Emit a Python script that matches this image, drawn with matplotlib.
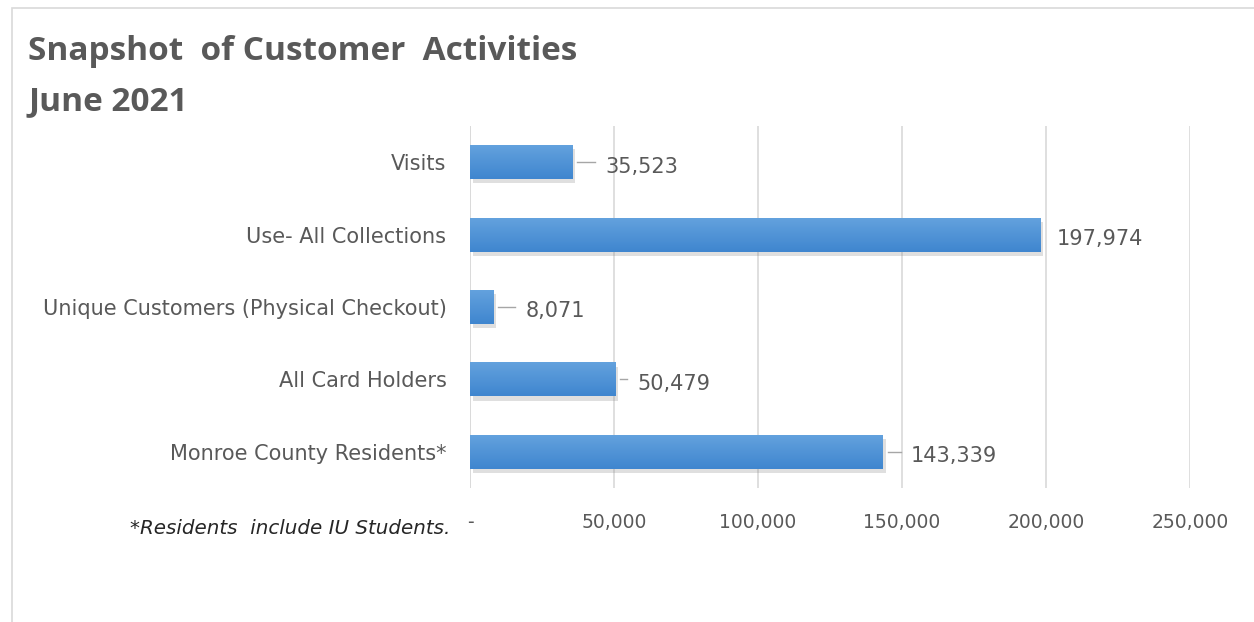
import matplotlib
matplotlib.use("Agg")
import numpy as np
import matplotlib.pyplot as plt
import matplotlib.patheffects as pe
from matplotlib.colors import LinearSegmentedColormap
from matplotlib.patches import Rectangle

categories = ["Visits", "Use- All Collections", "Unique Customers (Physical Checkout)",
              "All Card Holders", "Monroe County Residents*"]
values = [35523, 197974, 8071, 50479, 143339]
xticks = [0, 50000, 100000, 150000, 200000, 250000]
xticklabels = ["-", "50,000", "100,000", "150,000", "200,000", "250,000"]

# label gaps (px) as dragged in the source chart; leader line drawn when > 20 px
label_gap_px = [33, 17, 32, 22, 28]

TEXT = "#595959"
plt.rcParams["font.family"] = ["DejaVu Sans"]

W, H = 1254, 622
fig = plt.figure(figsize=(W / 100, H / 100), dpi=100)

# chart frame
fig.patches.append(Rectangle((12 / W, -0.05), 1.2, (H - 8) / H + 0.05,
                             transform=fig.transFigure, fill=False,
                             edgecolor="#d9d9d9", lw=1.2))

ax = fig.add_axes([470 / W, 1 - 488 / H, 720 / W, 362 / H])
y = list(range(len(categories)))
bars = ax.barh(y, values, height=0.47, color="#4a8fd6", zorder=3)
for b in bars:
    b.set_path_effects([pe.SimplePatchShadow(offset=(2, -3), shadow_rgbFace="#808080",
                                             alpha=0.25), pe.Normal()])

# top-to-bottom gradient fill on each bar
grad = LinearSegmentedColormap.from_list("bar", ["#64a2de", "#3f86cf"])
for b in bars:
    x0, y0, w, h = b.get_x(), b.get_y(), b.get_width(), b.get_height()
    im = ax.imshow(np.linspace(0, 1, 64).reshape(-1, 1), cmap=grad, aspect="auto",
                   extent=(x0, x0 + w, y0 + h, y0), origin="upper", zorder=4)
    im.set_clip_path(b)
ax.set_xlim(0, 250000)
ax.set_ylim(len(categories) - 0.5, -0.5)

ax.set_xticks(xticks)
ax.set_xticklabels(xticklabels, fontsize=13.5, color=TEXT)
ax.set_yticks(y)
ax.set_yticklabels(categories, fontsize=15, color=TEXT)
ax.tick_params(axis="y", length=0, pad=17)
ax.tick_params(axis="x", length=0, pad=18)
ax.grid(axis="x", color="#d9d9d9", lw=1.2, zorder=0)
for s in ax.spines.values():
    s.set_visible(False)
ax.axvline(0, color="#d9d9d9", lw=1.2, zorder=1)

# data labels with leader lines
units_per_px = 250000 / 720
for yi, v, gap in zip(y, values, label_gap_px):
    if gap > 20:
        ax.plot([v + 5 * units_per_px, v + (gap - 10) * units_per_px], [yi, yi],
                color="#a6a6a6", lw=1.0, zorder=2)
    ax.text(v + gap * units_per_px, yi + 0.06, f"{v:,}", fontsize=15, color=TEXT,
            va="center", ha="left")

fig.text(28 / W, 1 - 51 / H, "Snapshot  of Customer  Activities", fontsize=24,
         fontweight="bold", color=TEXT, va="center", ha="left",
         family="Open Sans")
fig.text(28 / W, 1 - 102 / H, "June 2021", fontsize=24, fontweight="bold",
         color=TEXT, va="center", ha="left", family="Open Sans")
fig.text(450 / W, 1 - 528 / H, "*Residents  include IU Students.", fontsize=14.3,
         style="italic", color="#262626", va="center", ha="right")

fig.savefig("out.png", dpi=100)
